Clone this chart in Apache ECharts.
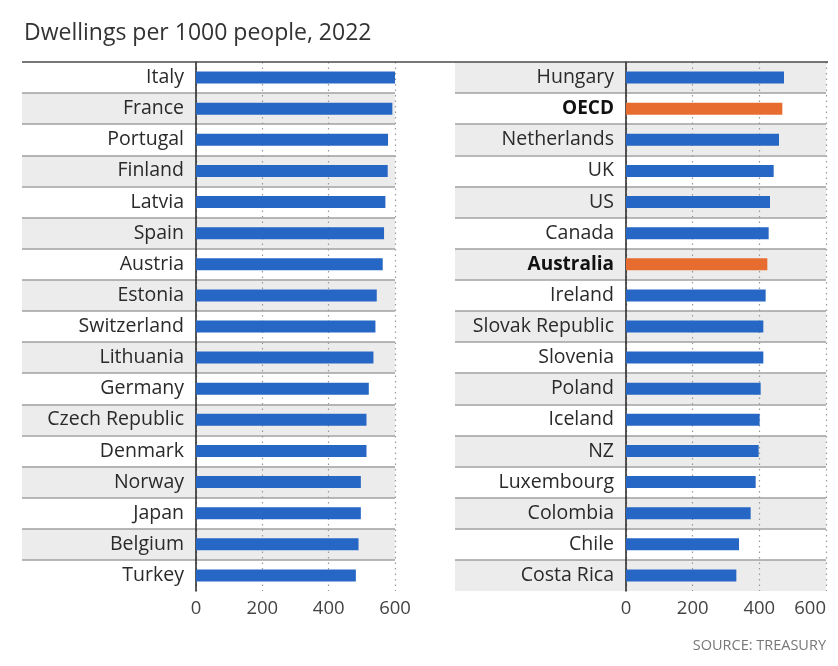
<!DOCTYPE html>
<html>
<head>
<meta charset="utf-8">
<script src="https://cdn.jsdelivr.net/npm/echarts@6/dist/echarts.min.js"></script>
<style>
html,body{margin:0;padding:0;background:#fff;}
#chart{width:838px;height:666px;}
</style>
</head>
<body>
<div id="chart"></div>
<script>
const leftCategories = ['Italy','France','Portugal','Finland','Latvia','Spain','Austria','Estonia','Switzerland','Lithuania','Germany','Czech Republic','Denmark','Norway','Japan','Belgium','Turkey'];
const leftValues = [600,592,579,578,571,567,563,545,541,535,521,514,514,497,497,490,482];
const rightCategories = ['Hungary','OECD','Netherlands','UK','US','Canada','Australia','Ireland','Slovak Republic','Slovenia','Poland','Iceland','NZ','Luxembourg','Colombia','Chile','Costa Rica'];
const rightValues = [474,469,459,443,432,428,424,419,412,412,404,401,398,389,374,339,331];
const highlighted = ['OECD','Australia'];
const tickValues = [0,200,400,600];

const FONT = '"Open Sans", "Noto Sans", sans-serif';
const BLUE = '#2667c5';
const ORANGE = '#e76c30';
const TOP = 62, H = 529;

function bandAxes(idx, cats, colors) {
  return {
    y: {
      type: 'category', gridIndex: idx, data: cats, inverse: true,
      axisLine: {show: false}, axisTick: {show: false}, axisLabel: {show: false},
      splitArea: {show: true, areaStyle: {color: colors}},
      splitLine: {show: true, showMinLine: false, showMaxLine: false, lineStyle: {color: '#a0a0a0', width: 1.5}}
    },
    x: {type: 'value', gridIndex: idx, show: false, min: 0, max: 1}
  };
}

function barYAxis(idx, cats) {
  return {
    type: 'category', gridIndex: idx, data: cats, inverse: true,
    axisLine: {show: true, lineStyle: {color: '#222', width: 1.5}},
    axisTick: {show: false},
    axisLabel: {
      margin: 12, fontFamily: FONT, fontSize: 19.5, color: '#2a2a2a',
      formatter: v => highlighted.includes(v) ? '{b|' + v + '}' : v,
      rich: {b: {fontFamily: FONT, fontSize: 19, fontWeight: 'bold', color: '#111'}}
    }
  };
}

function barXAxis(idx, alignMax) {
  return {
    type: 'value', gridIndex: idx, min: tickValues[0], max: tickValues[tickValues.length-1], interval: 200,
    axisLine: {show: false}, axisTick: {show: false},
    axisLabel: {margin: 8, fontFamily: FONT, fontSize: 18.5, color: '#444', alignMaxLabel: alignMax},
    splitLine: {show: true, lineStyle: {color: '#999', type: [1.5, 4], width: 1.2}}
  };
}

const bL = bandAxes(0, leftCategories, ['#ffffff', '#ececec']);
const bR = bandAxes(2, rightCategories, ['#ececec', '#ffffff']);

const option = {
  animation: false,
  backgroundColor: '#fff',
  title: [
    {text: 'Dwellings per 1000 people, 2022', left: 19, top: 17,
     textStyle: {fontFamily: FONT, fontSize: 23, fontWeight: 'normal', color: '#333'}},
    {text: 'SOURCE: TREASURY', right: 7, top: 633,
     textStyle: {fontFamily: FONT, fontSize: 14.5, fontWeight: 'normal', color: '#777'}}
  ],
  grid: [
    {left: 22, top: TOP, width: 373, height: H},
    {left: 196, top: TOP, width: 199, height: H},
    {left: 455, top: TOP, width: 371, height: H},
    {left: 626, top: TOP, width: 200, height: H}
  ],
  xAxis: [bL.x, barXAxis(1, 'center'), bR.x, barXAxis(3, 'right')],
  yAxis: [bL.y, barYAxis(1, leftCategories), bR.y, barYAxis(3, rightCategories)],
  graphic: [
    {type: 'line', shape: {x1: 22, y1: TOP, x2: 828, y2: TOP}, style: {stroke: '#4a4a4a', lineWidth: 1.6}, z: 10}
  ],
  series: [
    {type: 'bar', xAxisIndex: 1, yAxisIndex: 1, barWidth: 12,
     data: leftValues.map((v, i) => ({value: v, itemStyle: {color: highlighted.includes(leftCategories[i]) ? ORANGE : BLUE}}))},
    {type: 'bar', xAxisIndex: 3, yAxisIndex: 3, barWidth: 12,
     data: rightValues.map((v, i) => ({value: v, itemStyle: {color: highlighted.includes(rightCategories[i]) ? ORANGE : BLUE}}))}
  ]
};

const chart = echarts.init(document.getElementById('chart'), null, {renderer: 'canvas'});
chart.setOption(option);
</script>
</body>
</html>
